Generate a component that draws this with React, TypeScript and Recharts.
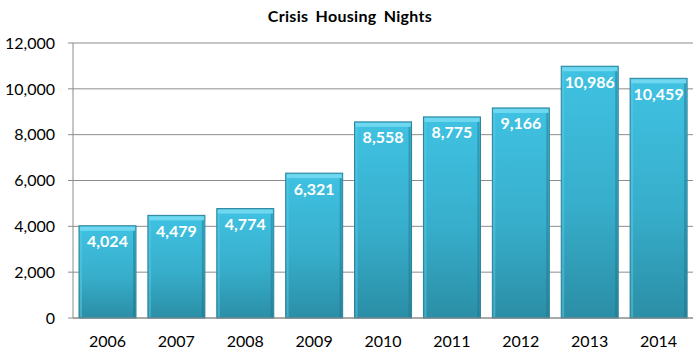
import React, { useEffect } from 'react'
import { BarChart, Bar, XAxis, YAxis, CartesianGrid, LabelList } from 'recharts'

const years = ['2006', '2007', '2008', '2009', '2010', '2011', '2012', '2013', '2014']
const nights = [4024, 4479, 4774, 6321, 8558, 8775, 9166, 10986, 10459]
const yTicks = [0, 2000, 4000, 6000, 8000, 10000, 12000]
const boundaryTicks = [0, 1, 2, 3, 4, 5, 6, 7, 8, 9]

const data = years.map((year, i) => ({ year, nights: nights[i] }))

const FONT = 'Lato, "Open Sans", sans-serif'
const fmt = (v: number) => v.toLocaleString('en-US')

// bar with a vertical gradient and a light bevel on top
function BevelBar(props: any) {
  const { x, y, width, height } = props
  if (!height || height <= 0) return null
  return (
    <g>
      <rect x={x} y={y} width={width} height={height} fill="url(#barFill)" stroke="#2b8198" strokeWidth={1} />
      <rect x={x + 1} y={y + 1} width={width - 2} height={4} fill="#6fd8f0" />
      <rect x={x + 1} y={y + 5} width={2} height={height - 6} fill="#5bcbe6" opacity={0.5} />
      <rect x={x + width - 3} y={y + 5} width={2} height={height - 6} fill="#1f6f84" opacity={0.45} />
    </g>
  )
}

export default function App() {
  useEffect(() => {
    document.body.style.margin = '0'
  }, [])

  return (
    <div style={{ width: 700, height: 362, position: 'relative', background: '#fff', fontFamily: FONT }}>
      <div style={{
        position: 'absolute', top: 6, left: 0, width: 700, textAlign: 'center',
        fontSize: 16, fontWeight: 700, color: '#000', wordSpacing: 3, letterSpacing: 0.3,
      }}>
        Crisis Housing Nights
      </div>
      <BarChart width={700} height={362} data={data} margin={{ top: 43, right: 7, left: 0, bottom: 0 }} barSize={57}>
        <defs>
          <linearGradient id="barFill" x1="0" y1="0" x2="0" y2="1">
            <stop offset="0%" stopColor="#40c2e2" />
            <stop offset="55%" stopColor="#37aecb" />
            <stop offset="100%" stopColor="#2b8ea6" />
          </linearGradient>
        </defs>
        <CartesianGrid vertical={false} stroke="#8c8c8c" strokeWidth={1} />
        {/* tick marks between the categories */}
        <XAxis
          xAxisId="edges"
          type="number"
          domain={[0, 9]}
          ticks={boundaryTicks}
          height={0}
          axisLine={false}
          tickSize={5}
          tickLine={{ stroke: '#8c8c8c' }}
          tickFormatter={() => ''}
        />
        <XAxis
          dataKey="year"
          height={44}
          tickLine={false}
          axisLine={{ stroke: '#8c8c8c' }}
          tickMargin={12}
          tick={{ fontSize: 16, fill: '#000', fontFamily: FONT }}
        />
        <YAxis
          width={73}
          domain={[0, 12000]}
          ticks={yTicks}
          tickSize={5}
          tickMargin={13}
          tickLine={{ stroke: '#8c8c8c' }}
          axisLine={{ stroke: '#8c8c8c' }}
          tickFormatter={fmt}
          tick={{ fontSize: 16, fill: '#000', fontFamily: FONT }}
        />
        <Bar dataKey="nights" shape={<BevelBar />} isAnimationActive={false}>
          <LabelList
            dataKey="nights"
            position="insideTop"
            offset={10}
            formatter={(v: any) => fmt(v)}
            style={{ fill: '#fff', fontSize: 16, fontWeight: 700, fontFamily: FONT }}
          />
        </Bar>
      </BarChart>
    </div>
  )
}
